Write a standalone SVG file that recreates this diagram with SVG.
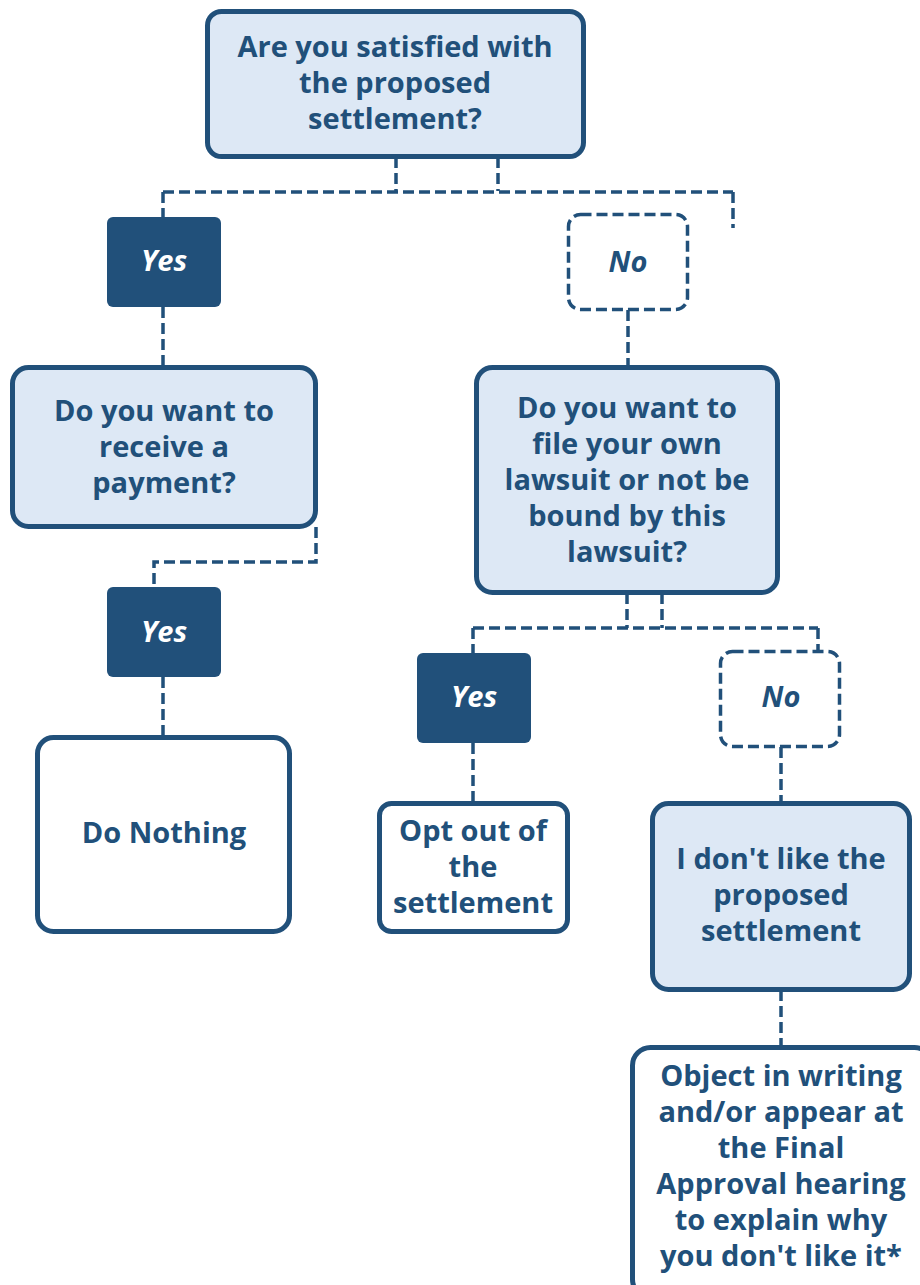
<svg xmlns="http://www.w3.org/2000/svg" width="920" height="1285" viewBox="0 0 920 1285">
<style>
.box{stroke:#21507a;stroke-width:5}
.q{fill:#dde8f5}
.w{fill:#ffffff}
.solid{fill:#21507a}
.dash{fill:#ffffff;stroke:#21507a;stroke-width:3.5;stroke-dasharray:11 5}
.conn{fill:none;stroke:#21507a;stroke-width:3.5;stroke-dasharray:11 5}
text{font-family:"Open Sans","Noto Sans","Liberation Sans",sans-serif;font-weight:700;font-size:29px;fill:#21507a;text-anchor:middle}
.lbl{font-style:italic;font-size:29px}
.lw{fill:#ffffff}
</style>
<rect width="920" height="1285" fill="#ffffff"/>
<g id="connectors">
<path class="conn" d="M396 157V191M498 157V191M163 192H733M163 192V217M733 192V228"/>
<path class="conn" d="M163 307V367"/>
<path class="conn" d="M628 310V367"/>
<path class="conn" d="M316 527V562H154V587"/>
<path class="conn" d="M163 677V737"/>
<path class="conn" d="M627 593V628M662 593V628M473 628H818M473 628V653M818 628V652"/>
<path class="conn" d="M473 743V803"/>
<path class="conn" d="M781 747V803"/>
<path class="conn" d="M781 990V1047"/>
</g>
<g id="q1">
<rect class="box q" x="207.5" y="11.5" width="376" height="145" rx="14"/>
<text x="395" y="57">Are you satisfied with</text>
<text x="395" y="93">the proposed</text>
<text x="395" y="129">settlement?</text>
</g>
<g id="yes1">
<rect class="solid" x="107" y="217" width="114" height="90" rx="6"/>
<text class="lbl lw" x="164" y="271">Yes</text>
</g>
<g id="no1">
<rect class="dash" x="568.5" y="214.5" width="119" height="95" rx="12"/>
<text class="lbl" x="628" y="272">No</text>
</g>
<g id="q2">
<rect class="box q" x="12.5" y="367.5" width="303" height="159" rx="16"/>
<text x="164" y="421">Do you want to</text>
<text x="164" y="457">receive a</text>
<text x="164" y="493">payment?</text>
</g>
<g id="q3">
<rect class="box q" x="476.5" y="367.5" width="301" height="225" rx="16"/>
<text x="627" y="418">Do you want to</text>
<text x="627" y="454">file your own</text>
<text x="627" y="490">lawsuit or not be</text>
<text x="627" y="526">bound by this</text>
<text x="627" y="562">lawsuit?</text>
</g>
<g id="yes2">
<rect class="solid" x="107" y="587" width="114" height="90" rx="6"/>
<text class="lbl lw" x="164" y="642">Yes</text>
</g>
<g id="yes3">
<rect class="solid" x="417" y="653" width="114" height="90" rx="6"/>
<text class="lbl lw" x="474" y="707">Yes</text>
</g>
<g id="no2">
<rect class="dash" x="720.5" y="651.5" width="119" height="95" rx="12"/>
<text class="lbl" x="781" y="707">No</text>
</g>
<g id="donothing">
<rect class="box w" x="37.5" y="737.5" width="252" height="194" rx="16"/>
<text x="164" y="843">Do Nothing</text>
</g>
<g id="optout">
<rect class="box w" x="379.5" y="803.5" width="188" height="128" rx="12"/>
<text x="473" y="841">Opt out of</text>
<text x="473" y="877">the</text>
<text x="473" y="913">settlement</text>
</g>
<g id="dislike">
<rect class="box q" x="652.5" y="803.5" width="257" height="186" rx="16"/>
<text x="781" y="869">I don't like the</text>
<text x="781" y="905">proposed</text>
<text x="781" y="941">settlement</text>
</g>
<g id="object">
<rect class="box w" x="632.5" y="1047.5" width="300" height="250" rx="18"/>
<text x="781" y="1086">Object in writing</text>
<text x="781" y="1122">and/or appear at</text>
<text x="781" y="1158">the Final</text>
<text x="781" y="1194">Approval hearing</text>
<text x="781" y="1230">to explain why</text>
<text x="781" y="1266">you don't like it*</text>
</g>
</svg>
